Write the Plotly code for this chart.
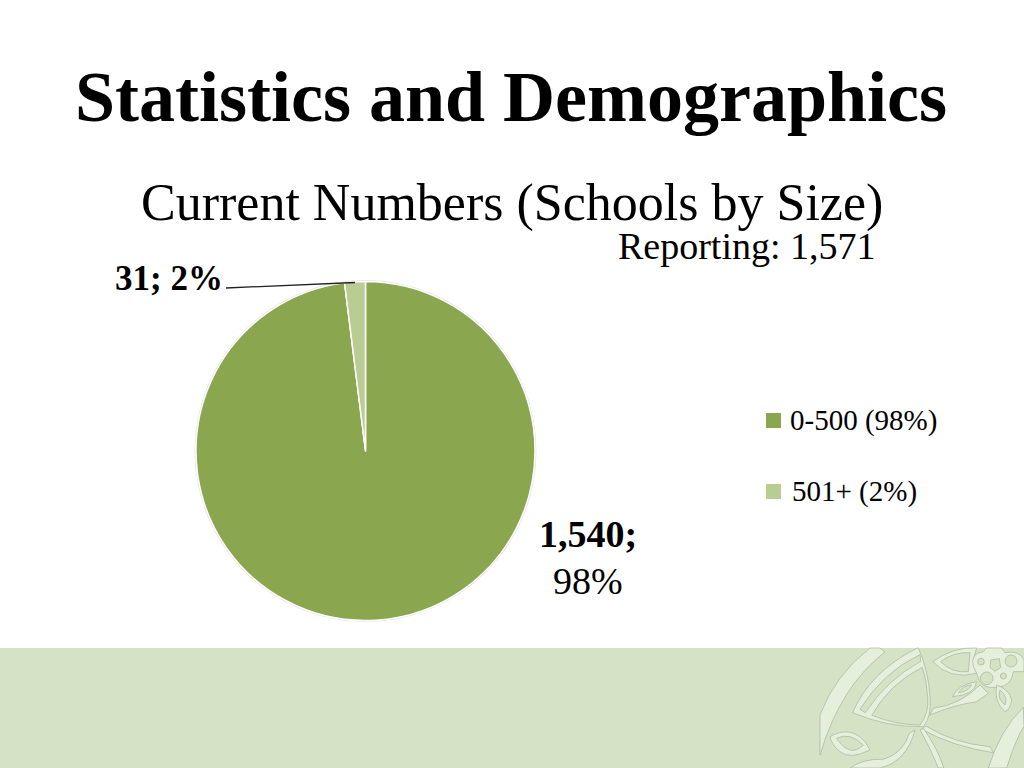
import re
import plotly.graph_objects as go

W, H = 1024, 768
categories = ["0-500 (98%)", "501+ (2%)"]
values = [1540, 31]
colors = ["#8AA64E", "#B9CC93"]
title = "Statistics and Demographics"
subtitle = "Current Numbers (Schools by Size)"
reporting = "Reporting: 1,571"
label_small = "31; 2%"
label_big = ["1,540;", "98%"]
FONT = "Liberation Serif"
BAND = "#D6E2C5"
DECOR = "#E6EEDC"
EDGE = "#A8B59A"


def px(x):
    return x / W


def py(y):
    return 1 - y / H


def zpath(d):
    """Decoration outlines traced in zoom coordinates -> paper coordinates."""
    nums = iter(re.findall(r"-?\d+\.?\d*|[A-Z]", d))
    out = []
    for t in nums:
        if t.isalpha():
            out.append(t)
        else:
            x = float(t)
            y = float(next(nums))
            out.append(f"{px(820 + x / 3):.5f},{py(630 + y / 3):.5f}")
    return " ".join(out)


shapes = [
    dict(type="rect", xref="paper", yref="paper", x0=0, x1=1, y0=py(768), y1=py(648),
         fillcolor=BAND, line_width=0, layer="below"),
]
decor = [
    ("M150 54 Q45 135 0 255 L0 375 Q60 170 195 66 L180 54 Z", DECOR),
    ("M292 54 Q150 125 98 248 Q200 292 310 290 Q335 262 330 200 Q325 120 295 54 Z", DECOR),
    ("M300 74 Q190 125 120 238 L136 248 Q200 150 302 94 Z", BAND),
    ("M307 112 Q210 160 155 256 Q230 285 300 285 Q328 250 323 200 Q320 150 307 112 Z", BAND),
    ("M330 255 Q400 225 470 215 L505 190 L480 165 Q420 225 340 235 Z", DECOR),
    ("M318 288 Q400 340 510 350 L520 368 Q400 350 305 298 Z", DECOR),
    ("M268 310 Q250 370 190 388 Q130 385 90 414 L180 414 Q260 395 285 300 Z", DECOR),
    ("M310 295 Q350 350 372 414 L355 414 Q330 350 300 300 Z", DECOR),
    ("M610 232 Q540 300 505 414 L560 414 Q590 320 612 290 Z", DECOR),
    ("M30 320 Q90 285 135 335 L150 360 Q90 390 60 365 Q35 345 30 320 Z", DECOR),
    ("M50 325 Q90 305 130 345 Q90 385 50 325 Z", BAND),
    ("M338 95 Q400 50 470 54 L460 90 L470 130 Q390 150 338 95 Z", DECOR),
    ("M362 95 Q400 65 450 68 L445 125 Q395 130 362 95 Z", BAND),
    ("M460 110 Q450 70 490 65 L500 54 L545 54 L555 68 Q600 60 612 90 L612 125 L580 125 Q575 170 530 172 Q480 180 470 130 Z", DECOR),
    ("M398 200 Q410 165 470 155 Q465 195 398 200 Z", DECOR),
    ("M530 165 Q570 180 575 210 Q570 240 555 245 Q520 215 530 165 Z", DECOR),
    ("M415 188 Q430 165 455 165 Q445 185 415 188 Z", BAND),
    ("M540 180 Q565 200 555 225 Q530 205 540 180 Z", BAND),
    ("M512 90 L538 86 L542 112 L525 124 L510 112 Z", BAND),
]
for d, fill in decor:
    shapes.append(dict(type="path", xref="paper", yref="paper", path=zpath(d),
                       fillcolor=fill, line=dict(color=EDGE, width=0.7), layer="below"))
for cx, cy, r in [(483, 95, 10), (573, 93, 18), (500, 145, 19), (550, 138, 9)]:
    shapes.append(dict(type="circle", xref="paper", yref="paper",
                       x0=px(820 + (cx - r) / 3), x1=px(820 + (cx + r) / 3),
                       y0=py(630 + (cy + r) / 3), y1=py(630 + (cy - r) / 3),
                       fillcolor=BAND, line=dict(color=EDGE, width=0.7), layer="below"))

# soft rim of the pie
shapes.append(dict(type="circle", xref="paper", yref="paper",
                   x0=px(194.5), x1=px(536.5), y0=py(622), y1=py(280),
                   fillcolor="#E4E4E4", line_width=0, layer="below"))
# leader line
shapes.append(dict(type="line", xref="paper", yref="paper",
                   x0=px(226), y0=py(288), x1=px(355), y1=py(282.5),
                   line=dict(color="#222222", width=1.3)))
# legend keys
shapes.append(dict(type="rect", xref="paper", yref="paper", x0=px(766), x1=px(781),
                   y0=py(428), y1=py(413), fillcolor=colors[0], line_width=0))
shapes.append(dict(type="rect", xref="paper", yref="paper", x0=px(766), x1=px(781),
                   y0=py(499), y1=py(484), fillcolor=colors[1], line_width=0))


def text(x, y, s, size, anchor="left", bold=False):
    if bold:
        s = f"<b>{s}</b>"
    return dict(x=px(x), y=py(y), xref="paper", yref="paper", text=s, showarrow=False,
                xanchor=anchor, yanchor="middle", font=dict(family=FONT, size=size, color="#000000"))


annotations = [
    text(511, 97, title, 72, "center", True),
    text(512, 203, subtitle, 52, "center"),
    text(747, 246, reporting, 38, "center"),
    text(169, 278, label_small, 35, "center", True),
    text(588, 534, label_big[0], 38, "center", True),
    text(588, 581, label_big[1], 38, "center"),
    text(788, 420, categories[0], 29),
    text(790, 491, categories[1], 29),
]

fig = go.Figure(go.Pie(
    labels=categories, values=values, sort=False, direction="clockwise", rotation=0,
    marker=dict(colors=colors, line=dict(color="#FFFFFF", width=1.5)),
    textinfo="none", showlegend=False,
    domain=dict(x=[px(196), px(535)], y=[py(620.5), py(281.5)]),
))
fig.update_layout(width=W, height=H, margin=dict(l=0, r=0, t=0, b=0),
                  paper_bgcolor="#FFFFFF", plot_bgcolor="#FFFFFF",
                  shapes=shapes, annotations=annotations)
fig.write_html("out.html", config=dict(displayModeBar=False),
               post_script="document.body.style.margin='0';document.body.style.overflow='hidden';")
